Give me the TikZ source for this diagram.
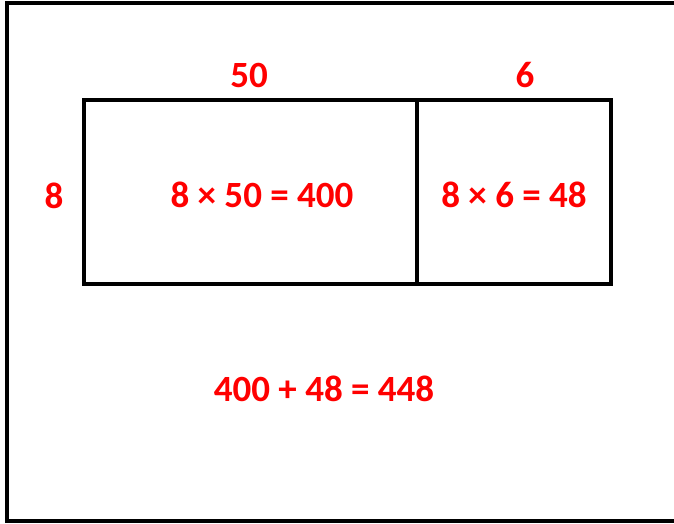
\documentclass[tikz,border=0pt]{standalone}
\usepackage{fontspec}
\setmainfont{Carlito}
\begin{document}
\begin{tikzpicture}[x=1pt,y=-1pt,
  lbl/.style={text=red,font=\fontsize{37}{40}\selectfont\bfseries,inner sep=0pt,anchor=center},
  frame/.style={line width=4.5pt,black},
  boxline/.style={line width=3.5pt,black}]
\useasboundingbox (0,0) rectangle (674,524);
\draw[frame] (674,3) -- (7,3) -- (7,521) -- (674,521);
\draw[boxline] (84,100) rectangle (611,284);
\draw[boxline] (417,100) -- (417,284);
\node[lbl] (t50) at (249,75) {50};
\node[lbl] (t6) at (525,75) {6};
\node[lbl] (t8) at (54,196) {8};
\node[lbl] (a) at (262,195) {8 × 50 = 400};
\node[lbl] (b) at (514,195) {8 × 6 = 48};
\node[lbl] (c) at (324,389) {400 + 48 = 448};
\end{tikzpicture}
\end{document}
